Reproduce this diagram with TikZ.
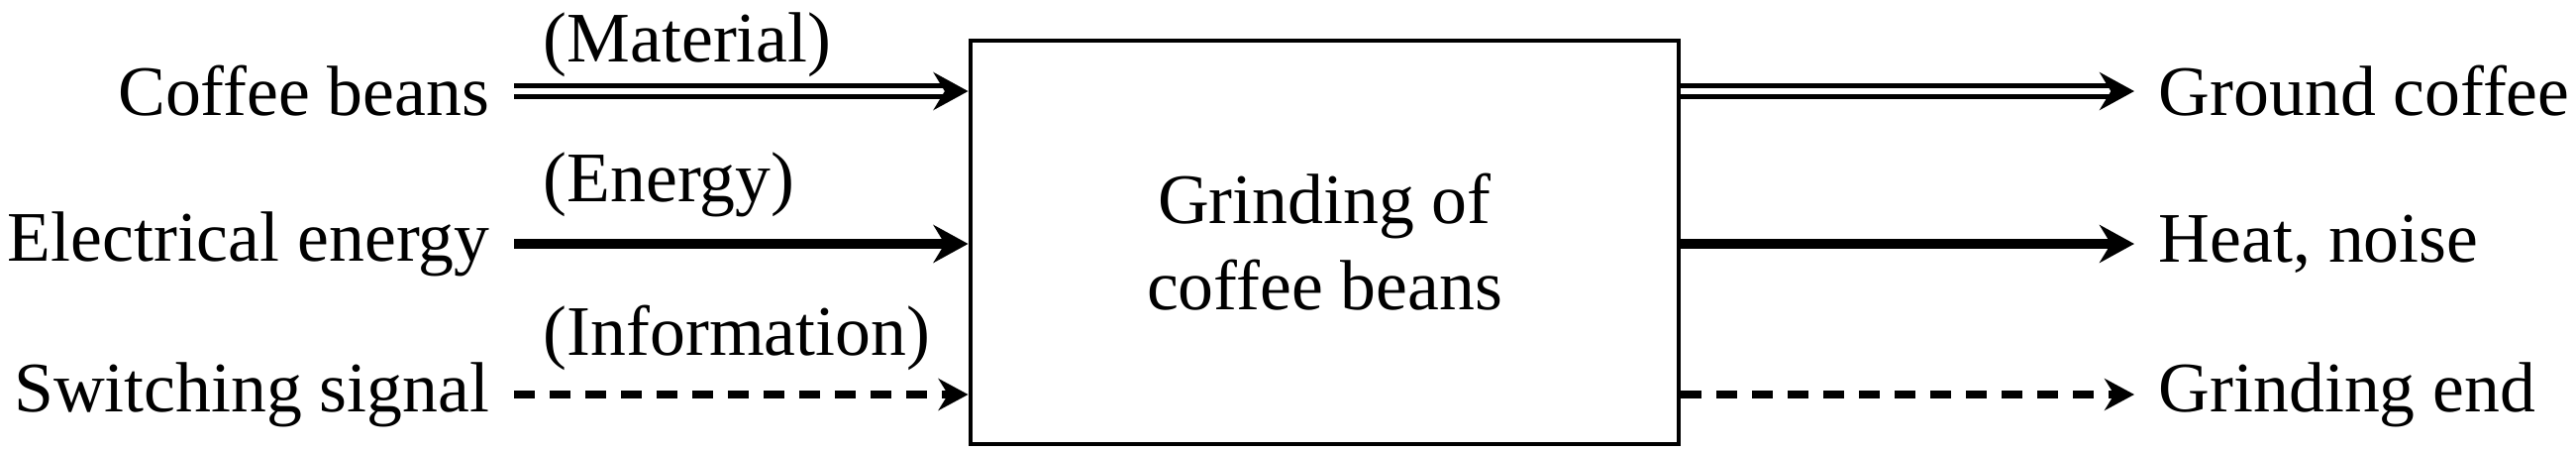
\documentclass[tikz,border=0pt]{standalone}
\usepackage{fontspec}
\setmainfont{Liberation Serif}
\usetikzlibrary{arrows.meta}
\begin{document}
\begin{tikzpicture}[>={Stealth[length=1.75mm,width=1.9mm]},line join=miter,font=\fontsize{10.2}{12.4}\selectfont,
	mat/.style={draw,double,line width=0.7pt,double distance=0.85pt,->},
	ener/.style={line width=1.3pt,->},
	info/.style={line width=1.1pt,dash pattern=on 1.05mm off 0.75mm,-{Stealth[length=1.5mm,width=1.6mm]}}]
	\useasboundingbox (0,0) rectangle (13.005,2.275);
	\node[draw,line width=0.7pt,minimum width=3.575cm,minimum height=2.035cm,align=center] (grind) at (6.6875,1.0525) {Grinding of\\coffee beans};
	\node[anchor=east] (beans) at (2.595,1.815) {Coffee beans};
	\node[anchor=east] (elec) at (2.595,1.045) {Electrical energy};
	\node[anchor=east] (switch) at (2.595,0.285) {Switching signal};
	\node[anchor=west] (ground) at (10.775,1.815) {Ground coffee};
	\node[anchor=west] (heat) at (10.775,1.045) {Heat, noise};
	\node[anchor=west] (gend) at (10.775,0.285) {Grinding end};
	\node[anchor=base west] (lmat) at (2.62,1.965) {(Material)};
	\node[anchor=base west] (lener) at (2.62,1.26) {(Energy)};
	\node[anchor=base west] (linfo) at (2.62,0.485) {(Information)};
	\draw[mat] (beans.east) -- (beans -| grind.west);
	\draw[ener] (elec.east) -- (elec -| grind.west);
	\draw[info] (switch.east) -- (switch -| grind.west);
	\draw[mat] (ground -| grind.east) -- (ground.west);
	\draw[ener] (heat -| grind.east) -- (heat.west);
	\draw[info] (gend -| grind.east) -- (gend.west);
\end{tikzpicture}
\end{document}
